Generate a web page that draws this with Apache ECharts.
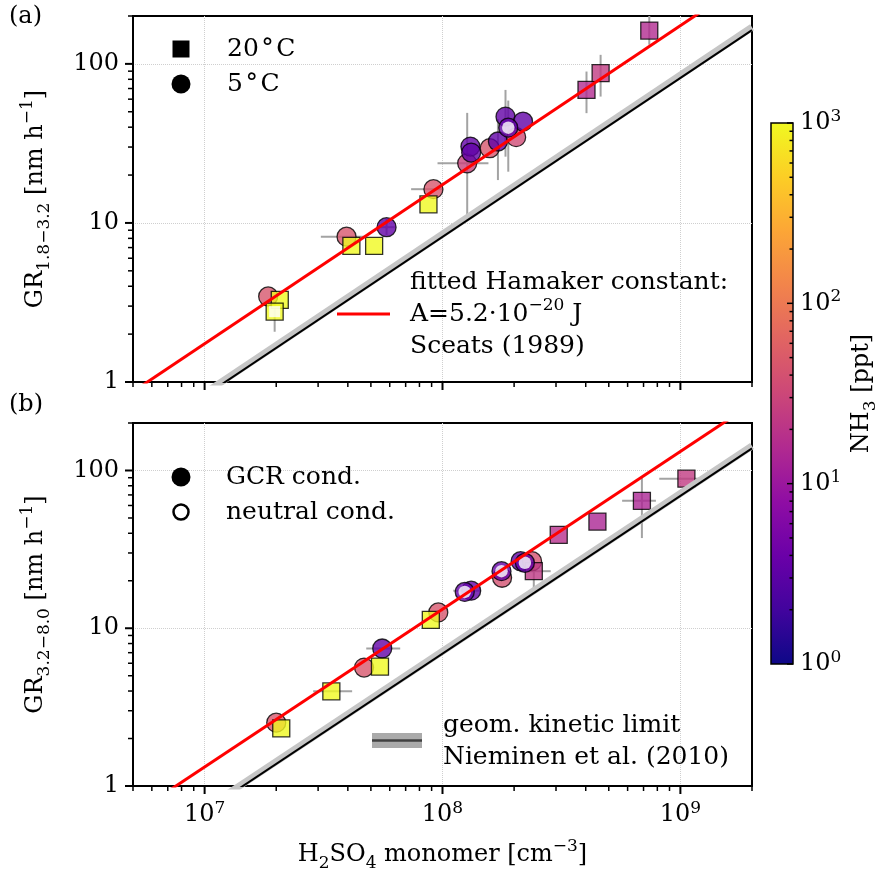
<!DOCTYPE html>
<html>
<head>
<meta charset="utf-8">
<script src="https://cdn.jsdelivr.net/npm/echarts@6/dist/echarts.min.js"></script>
</head>
<body style="margin:0;background:#fff">
<div id="chart" style="width:881px;height:873px"></div>
<script>
// ---- panel (a): GR 1.8-3.2 nm ----
// 5 C, GCR (filled circles)
var aCircX = [1.85e7, 3.95e7, 5.82e7, 9.16e7, 1.27e8, 1.31e8, 1.32e8, 1.58e8, 1.71e8, 1.84e8, 2.04e8, 2.18e8];
var aCircY = [3.45, 8.2, 9.4, 16.3, 23.7, 30.2, 27.7, 29.5, 32.5, 46.6, 34.6, 43.4];
var aCircNH3 = [45, 45, 3.5, 45, 28, 3.5, 3.5, 45, 3.5, 3.5, 35, 3.5];
// 20 C, GCR (filled squares)
var aSqX = [2.07e7, 4.14e7, 5.16e7, 8.73e7, 4.03e8, 4.62e8, 7.4e8];
var aSqY = [3.28, 7.17, 7.17, 13.1, 68.6, 87.4, 162];
var aSqNH3 = [1000, 1000, 1000, 1000, 16, 24, 16];
// neutral (open)
var aOpenSqX = [1.97e7], aOpenSqY = [2.77], aOpenSqNH3 = [1000];
var aOpenCircX = [1.89e8], aOpenCircY = [39.7], aOpenCircNH3 = [3.5];
// error bars: x, y, xlo, xhi, ylo, yhi (0 = none)
var aErr = [
  [1.97e7, 2.77, 0, 0, 2.07, 3.4],
  [3.95e7, 8.2, 3.08e7, 4.73e7, 0, 0],
  [5.82e7, 9.4, 5.3e7, 6.3e7, 8.4, 10.6],
  [9.16e7, 16.3, 7.38e7, 1.0e8, 0, 0],
  [1.27e8, 23.7, 9.53e7, 1.56e8, 10.9, 49.2],
  [1.84e8, 46.6, 0, 0, 26.1, 68.6],
  [1.89e8, 39.7, 0, 0, 21, 58.8],
  [1.71e8, 32.5, 0, 0, 18.6, 45],
  [4.03e8, 68.6, 0, 0, 49, 89.5],
  [4.62e8, 87.4, 0, 0, 62.3, 114],
  [7.4e8, 162, 0, 0, 132, 200]
];
// lines: fitted Hamaker (red) and geometric kinetic limit (black + band)
var aFit = [[5e6, 0.87], [2e9, 348]];
var aKin = [[5e6, 0.41], [2e9, 163]];
var aBand = [[5e6, 0.425], [2e9, 170]];

// ---- panel (b): GR 3.2-8.0 nm ----
var bCircX = [2.0e7, 4.68e7, 5.58e7, 9.6e7, 1.32e8, 1.78e8, 2.13e8, 2.38e8];
var bCircY = [2.52, 5.63, 7.44, 12.6, 17.3, 20.9, 26.6, 26.6];
var bCircNH3 = [45, 45, 3.5, 45, 3.5, 40, 3.5, 40];
var bSqX = [2.1e7, 3.41e7, 5.46e7, 8.93e7, 2.42e8, 3.08e8, 4.48e8, 6.89e8, 1.06e9];
var bSqY = [2.32, 3.98, 5.71, 11.3, 23.0, 39.1, 47.4, 64.2, 88.7];
var bSqNH3 = [1000, 1000, 1000, 1000, 22, 18, 14, 14, 24];
var bOpenCircX = [1.24e8, 1.77e8, 2.22e8];
var bOpenCircY = [17.0, 23.0, 26.0];
var bOpenCircNH3 = [3.5, 3.5, 3.5];
var bErr = [
  [3.41e7, 3.98, 2.86e7, 4.17e7, 0, 0],
  [5.58e7, 7.44, 4.78e7, 6.64e7, 0, 0],
  [1.32e8, 17.3, 1.11e8, 1.45e8, 0, 0],
  [1.78e8, 20.9, 1.6e8, 1.95e8, 0, 0],
  [2.42e8, 23.0, 2.1e8, 2.85e8, 16.9, 27],
  [6.89e8, 64.2, 5.69e8, 7.89e8, 37.3, 90.8],
  [1.06e9, 88.7, 8.15e8, 1.2e9, 0, 0]
];
var bFit = [[5e6, 0.66], [2e9, 264]];
var bKin = [[5e6, 0.345], [2e9, 138]];
var bBand = [[5e6, 0.357], [2e9, 143]];

// axes
var xMin = 5e6, xMax = 2e9, yMin = 1, yMax = 200;
var xMajor = [1e7, 1e8, 1e9];
var yMajor = [1, 10, 100];
var cbMajor = [1, 10, 100, 1000];

var FONT = 'DejaVu Serif';
var PLASMA = ['#0d0887', '#41049d', '#6a00a8', '#8f0da4', '#b12a90', '#cc4778',
  '#e16462', '#f2844b', '#fca636', '#fcce25', '#f0f921'];

function hex2rgb(h) {
  return [parseInt(h.substr(1, 2), 16), parseInt(h.substr(3, 2), 16), parseInt(h.substr(5, 2), 16)];
}
function plasma(v) {
  var t = Math.log10(v) / 3;
  t = Math.max(0, Math.min(1, t));
  var p = t * 10, i = Math.min(9, Math.floor(p)), f = p - i;
  var a = hex2rgb(PLASMA[i]), b = hex2rgb(PLASMA[i + 1]);
  var c = a.map(function (u, k) { return Math.round(u + (b[k] - u) * f); });
  return 'rgb(' + c.join(',') + ')';
}

// minor tick values 2..9 x 10^k within [lo, hi]
function minors(lo, hi) {
  var out = [];
  for (var k = 0; k <= 9; k++) {
    for (var m = 2; m <= 9; m++) {
      var v = m * Math.pow(10, k);
      if (v >= lo * 0.999 && v <= hi * 1.001) out.push(v);
    }
  }
  return out;
}

function isPow(v) {
  var l = Math.log10(v);
  return Math.abs(l - Math.round(l)) < 1e-6;
}
var powRich = {
  b: { fontFamily: FONT, fontSize: 24, lineHeight: 30, color: '#000' },
  s: { fontFamily: FONT, fontSize: 17, lineHeight: 16, verticalAlign: 'top', color: '#000' }
};
function powLabel(v) {
  if (!isPow(v)) return '';
  return '{b|10}{s|' + Math.round(Math.log10(v)) + '}';
}
function plainLabel(v) {
  if (!isPow(v)) return '';
  return String(Math.round(v));
}

var nameRich = {
  m: { fontFamily: FONT, fontSize: 24, lineHeight: 34, color: '#000' },
  sb: { fontFamily: FONT, fontSize: 17, lineHeight: 16, verticalAlign: 'bottom', color: '#000' },
  sp: { fontFamily: FONT, fontSize: 17, lineHeight: 16, verticalAlign: 'top', color: '#000' }
};

function xAxisDef(grid, labels) {
  return {
    type: 'log', gridIndex: grid, min: xMin, max: xMax, logBase: 10,
    axisLine: { lineStyle: { color: '#000', width: 2 } },
    axisTick: { show: false },
    axisLabel: { show: labels, formatter: powLabel, rich: powRich, margin: 14 },
    splitLine: { show: true, showMinLine: false, showMaxLine: false,
      lineStyle: { color: '#cfcfcf', width: 1, type: 'dotted' } },
    name: labels ? '{m|H}{sb|2}{m|SO}{sb|4}{m| monomer [cm}{sp|\u22123}{m|]}' : '',
    nameLocation: 'middle', nameGap: 52,
    nameTextStyle: { rich: nameRich }
  };
}
function yAxisDef(grid, name) {
  return {
    type: 'log', gridIndex: grid, min: yMin, max: yMax, logBase: 10,
    axisLine: { lineStyle: { color: '#000', width: 2 } },
    axisTick: { show: false },
    axisLabel: { formatter: plainLabel, fontFamily: FONT, fontSize: 24, color: '#000', margin: 14 },
    splitLine: { show: true, showMinLine: false, showMaxLine: false,
      lineStyle: { color: '#cfcfcf', width: 1, type: 'dotted' } },
    name: name, nameLocation: 'middle', nameGap: 80, nameRotate: 90,
    nameTextStyle: { rich: nameRich }
  };
}

function scatter(xi, xs, ys, nh, symbol, size) {
  return {
    type: 'scatter', xAxisIndex: xi, yAxisIndex: xi, symbol: symbol, symbolSize: size,
    silent: true,
    data: xs.map(function (x, i) {
      return { value: [x, ys[i]], itemStyle: { color: plasma(nh[i]), borderColor: '#000', borderWidth: 1.3 } };
    })
  };
}
function openOverlay(xi, xs, ys, symbol, size) {
  return {
    type: 'scatter', xAxisIndex: xi, yAxisIndex: xi, symbol: symbol, symbolSize: size,
    silent: true, itemStyle: { color: '#fff', borderWidth: 0 },
    data: xs.map(function (x, i) { return [x, ys[i]]; })
  };
}
function lineSeries(xi, data, color, width) {
  return {
    type: 'line', xAxisIndex: xi, yAxisIndex: xi, data: data, symbol: 'none', silent: true,
    lineStyle: { color: color, width: width }, clip: true
  };
}
function errSeries(xi, data) {
  return {
    type: 'custom', xAxisIndex: xi, yAxisIndex: xi, silent: true, clip: true,
    dimensions: ['x', 'y', 'xlo', 'xhi', 'ylo', 'yhi'], encode: { x: 0, y: 1 },
    data: data,
    renderItem: function (params, api) {
      var y = api.value(1), x = api.value(0);
      var ch = [];
      var st = { stroke: '#a3a3a3', lineWidth: 2 };
      if (api.value(2) > 0) {
        var a = api.coord([api.value(2), y]), b = api.coord([api.value(3), y]);
        ch.push({ type: 'line', shape: { x1: a[0], y1: a[1], x2: b[0], y2: b[1] }, style: st });
      }
      if (api.value(4) > 0) {
        var c = api.coord([x, api.value(4)]), d = api.coord([x, api.value(5)]);
        ch.push({ type: 'line', shape: { x1: c[0], y1: c[1], x2: d[0], y2: d[1] }, style: st });
      }
      return { type: 'group', children: ch };
    }
  };
}

var cbStops = PLASMA.map(function (c, i) { return { offset: 1 - i / 10, color: c }; }).reverse();

var series = [];
[[0, aBand, aKin, aFit, aErr], [1, bBand, bKin, bFit, bErr]].forEach(function (p) {
  series.push(lineSeries(p[0], p[1], '#c6c6c6', 7));
  series.push(lineSeries(p[0], p[2], '#000', 2));
  series.push(lineSeries(p[0], p[3], '#ff0000', 3));
  series.push(errSeries(p[0], p[4]));
});
series.push(scatter(0, aCircX, aCircY, aCircNH3, 'circle', 19));
series.push(scatter(0, aSqX, aSqY, aSqNH3, 'rect', 17));
series.push(scatter(0, aOpenSqX, aOpenSqY, aOpenSqNH3, 'rect', 17));
series.push(openOverlay(0, aOpenSqX, aOpenSqY, 'rect', 11));
series.push(scatter(0, aOpenCircX, aOpenCircY, aOpenCircNH3, 'circle', 19));
series.push(openOverlay(0, aOpenCircX, aOpenCircY, 'circle', 12.5));
series.push(scatter(1, bCircX, bCircY, bCircNH3, 'circle', 19));
series.push(scatter(1, bSqX, bSqY, bSqNH3, 'rect', 17));
series.push(scatter(1, bOpenCircX, bOpenCircY, bOpenCircNH3, 'circle', 19));
series.push(openOverlay(1, bOpenCircX, bOpenCircY, 'circle', 12.5));
// colorbar
series.push({
  type: 'custom', xAxisIndex: 2, yAxisIndex: 2, silent: true, clip: false,
  dimensions: ['x', 'y'], encode: { x: 0, y: 1 }, data: [[0, 1]],
  renderItem: function (params, api) {
    var tl = api.coord([0, 1000]), br = api.coord([1, 1]);
    return { type: 'rect', shape: { x: tl[0], y: tl[1], width: br[0] - tl[0], height: br[1] - tl[1] },
      style: { fill: new echarts.graphic.LinearGradient(0, 0, 0, 1, cbStops), stroke: '#000', lineWidth: 1.5 } };
  }
});

var txt = function (x, y, text, extra) {
  var s = { text: text, fontFamily: FONT, fontSize: 25, fill: '#000', verticalAlign: 'middle', align: 'left' };
  if (extra) for (var k in extra) s[k] = extra[k];
  return { type: 'text', x: x, y: y, style: s, z: 20 };
};
var legRich = {
  m: { fontFamily: FONT, fontSize: 25, lineHeight: 34, color: '#000' },
  sp: { fontFamily: FONT, fontSize: 17, lineHeight: 16, verticalAlign: 'top', color: '#000' }
};

var graphics = [
  txt(9, 17, '(a)', { fontSize: 24 }),
  txt(9, 405, '(b)', { fontSize: 24 }),
  // panel a, temperature legend
  { type: 'rect', shape: { x: 172.5, y: 40.5, width: 17, height: 17 }, style: { fill: '#000' }, z: 20 },
  txt(227, 49, '20\u200a\u00b0\u200aC'),
  { type: 'circle', shape: { cx: 181, cy: 84, r: 9.5 }, style: { fill: '#000' }, z: 20 },
  txt(227, 84, '5\u200a\u00b0\u200aC'),
  // panel a, fit legend
  txt(410, 282, 'fitted Hamaker constant:'),
  { type: 'line', shape: { x1: 337, y1: 314, x2: 390, y2: 314 }, style: { stroke: '#ff0000', lineWidth: 3 }, z: 20 },
  txt(410, 314, '{m|A=5.2\u00b710}{sp|\u221220}{m| J}', { rich: legRich }),
  txt(410, 346, 'Sceats (1989)'),
  // panel b, ion legend
  { type: 'circle', shape: { cx: 181, cy: 477, r: 9.5 }, style: { fill: '#000' }, z: 20 },
  txt(226, 477, 'GCR cond.'),
  { type: 'circle', shape: { cx: 181, cy: 512, r: 7.5 }, style: { fill: '#fff', stroke: '#000', lineWidth: 2.5 }, z: 20 },
  txt(226, 512, 'neutral cond.'),
  // panel b, kinetic limit legend
  { type: 'rect', shape: { x: 372, y: 733, width: 50, height: 15 }, style: { fill: '#aaaaaa' }, z: 20 },
  { type: 'line', shape: { x1: 372, y1: 740.5, x2: 422, y2: 740.5 }, style: { stroke: '#404040', lineWidth: 2.5 }, z: 21 },
  txt(443, 725, 'geom. kinetic limit'),
  txt(443, 757, 'Nieminen et al. (2010)')
];

var chart = echarts.init(document.getElementById('chart'));
chart.setOption({
  animation: false,
  grid: [
    { left: 133, top: 16, width: 619, height: 366, show: true, borderColor: '#000', borderWidth: 2, backgroundColor: 'transparent' },
    { left: 133, top: 423, width: 619, height: 366, show: true, borderColor: '#000', borderWidth: 2, backgroundColor: 'transparent' },
    { left: 771, top: 123, width: 22, height: 541 }
  ],
  xAxis: [
    xAxisDef(0, false),
    xAxisDef(1, true),
    { type: 'value', gridIndex: 2, min: 0, max: 1, show: false }
  ],
  yAxis: [
    yAxisDef(0, '{m|GR}{sb|1.8\u22123.2}{m| [nm h}{sp|\u22121}{m|]}'),
    yAxisDef(1, '{m|GR}{sb|3.2\u22128.0}{m| [nm h}{sp|\u22121}{m|]}'),
    {
      type: 'log', gridIndex: 2, min: 1, max: 1000, logBase: 10, position: 'right',
      axisLine: { show: false }, axisTick: { show: false }, splitLine: { show: false },
      axisLabel: { formatter: powLabel, rich: powRich, margin: 7 },
      name: '{m|NH}{sb|3}{m| [ppt]}', nameLocation: 'middle', nameGap: 52, nameRotate: 90,
      nameTextStyle: { rich: nameRich }
    }
  ],
  graphic: graphics,
  series: series
});

// log tick marks (major + minor) as thin filled bars, placed through the axes' own scales
var tickEls = [];
function vTick(x, y, len, w) {
  tickEls.push({ type: 'rect', z: 25, shape: { x: x - w / 2, y: y, width: w, height: len }, style: { fill: '#000' } });
}
function hTick(x, y, len, w) {
  tickEls.push({ type: 'rect', z: 25, shape: { x: x - len, y: y - w / 2, width: len, height: w }, style: { fill: '#000' } });
}
[0, 1].forEach(function (gi) {
  xMajor.concat(minors(xMin, xMax)).forEach(function (v) {
    var major = isPow(v);
    var p = chart.convertToPixel({ gridIndex: gi }, [v, yMin]);
    vTick(p[0], p[1], major ? 8 : 5, major ? 2 : 1.5);
  });
  yMajor.concat(minors(yMin, yMax)).forEach(function (v) {
    var major = isPow(v);
    var p = chart.convertToPixel({ gridIndex: gi }, [xMin, v]);
    hTick(p[0], p[1], major ? 8 : 5, major ? 2 : 1.5);
  });
});
cbMajor.concat(minors(1, 1000)).forEach(function (v) {
  var major = isPow(v);
  var p = chart.convertToPixel({ gridIndex: 2 }, [1, v]);
  hTick(p[0], p[1], major ? 6 : 3.5, 1.5);
});
chart.setOption({ graphic: graphics.concat(tickEls) });
</script>
</body>
</html>
